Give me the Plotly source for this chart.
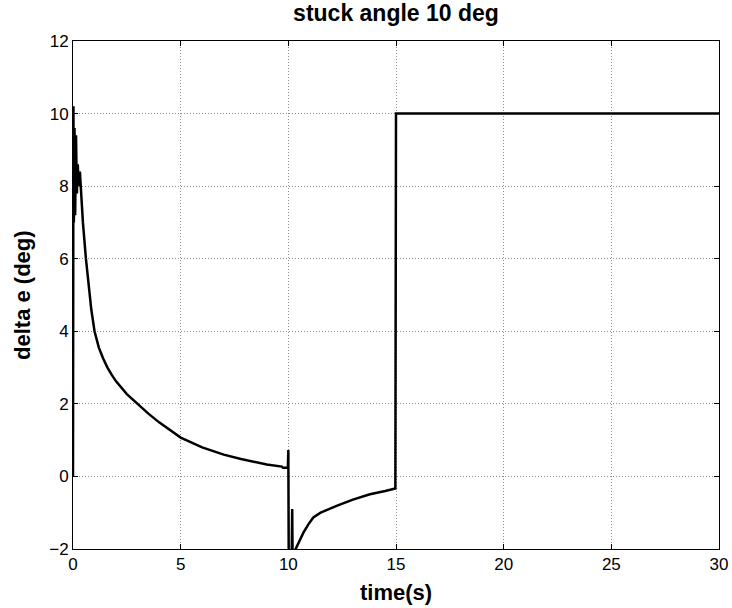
import plotly.graph_objects as go

# time (s) and elevator deflection delta e (deg)
time_s = [0.0, 0.005, 0.02, 0.04, 0.07, 0.10, 0.14, 0.18, 0.22, 0.27, 0.32, 0.40, 0.46,
          0.6, 0.7, 0.85, 1.0, 1.2, 1.4, 1.6, 1.8, 2.0, 2.5, 3.0, 3.5, 4.0, 4.5, 5.0, 6.0,
          7.0, 7.8, 9.0, 9.7, 9.75, 9.98, 10.0, 10.02, 10.15, 10.18, 10.2, 10.3, 10.5,
          10.7, 10.93, 11.16, 11.5, 12.24, 13.0, 13.79, 14.5, 14.97, 15.0, 30.0]
delta_e = [0.0, 0.0, 10.2, 7.0, 9.6, 7.2, 9.4, 7.8, 8.6, 8.0, 8.4, 7.6, 7.0,
           6.0, 5.4, 4.6, 4.0, 3.55, 3.25, 3.0, 2.8, 2.62, 2.27, 2.0, 1.73, 1.49, 1.27,
           1.07, 0.8, 0.6, 0.48, 0.33, 0.27, 0.24, 0.24, 0.73, -2.5, -2.5, -0.9, -2.5,
           -2.05, -1.8, -1.55, -1.32, -1.13, -1.0, -0.81, -0.64, -0.49, -0.40, -0.33,
           10.0, 10.0]

x_ticks = [0, 5, 10, 15, 20, 25, 30]
y_ticks = [-2, 0, 2, 4, 6, 8, 10, 12]

FONT = "Liberation Sans, Arial, sans-serif"

fig = go.Figure()
fig.add_trace(go.Scatter(x=time_s, y=delta_e, mode="lines",
                         line=dict(color="black", width=2.5), showlegend=False))

axis_common = dict(showline=True, linecolor="black", linewidth=1, mirror="ticks",
                   ticks="inside", ticklen=5, tickcolor="black", automargin=False,
                   showgrid=True, gridcolor="#8a8a8a", griddash="1px,2px", gridwidth=1,
                   zeroline=False, tickfont=dict(family=FONT, size=17, color="black"))

fig.update_xaxes(range=[0, 30], tickvals=x_ticks, **axis_common)
fig.update_yaxes(range=[-2, 12], tickvals=y_ticks, **axis_common)

fig.update_layout(
    width=732, height=608,
    margin=dict(l=73, r=13, t=41, b=59),
    paper_bgcolor="white", plot_bgcolor="white",
    title=dict(text="<b>stuck angle 10 deg</b>", x=0.5, xref="paper", y=1 - 13 / 608,
               yref="container", yanchor="middle", automargin=False,
               font=dict(family=FONT, size=23, color="black")),
    annotations=[
        dict(text="<b>time(s)</b>", xref="paper", yref="paper", x=0.5, y=-0.085,
             yanchor="middle", showarrow=False,
             font=dict(family=FONT, size=22, color="black")),
        dict(text="<b>delta e (deg)</b>", xref="paper", yref="paper", x=-0.079, y=0.5,
             xanchor="center", yanchor="middle", textangle=-90, showarrow=False,
             font=dict(family=FONT, size=22, color="black")),
    ],
)

fig.write_html("out.html")
